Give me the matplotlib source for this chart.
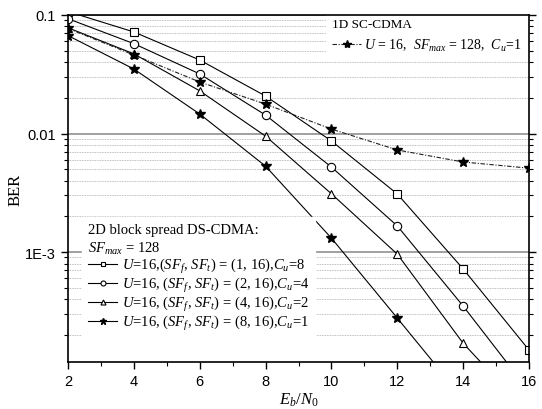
import matplotlib
matplotlib.use("Agg")
import matplotlib.pyplot as plt
from matplotlib.ticker import FixedLocator, FixedFormatter, LogLocator, NullFormatter

plt.rcParams['font.family'] = 'Liberation Serif'
plt.rcParams['mathtext.fontset'] = 'custom'
plt.rcParams['mathtext.rm'] = 'Liberation Serif'
plt.rcParams['mathtext.it'] = 'Liberation Serif:italic'

# Eb/N0 values
snr = [2, 4, 6, 8, 10, 12, 14, 16]

# 2D block spread DS-CDMA curves (last points fall below the axis)
ber_cu8 = [0.107, 0.0719, 0.0417, 0.0207, 0.00865, 0.00309, 7.2e-4, 1.49e-4]
ber_cu4 = [0.093, 0.0573, 0.0318, 0.0143, 0.00521, 0.00166, 3.5e-4, 6.7e-5]
ber_cu2 = [0.078, 0.047, 0.0229, 0.0095, 0.0031, 9.6e-4, 1.7e-4, 4.3e-5]
snr_cu1 = [2, 4, 6, 8, 10, 12, 14]
ber_cu1 = [0.067, 0.035, 0.0146, 0.0053, 0.00131, 2.77e-4, 5.8e-5]

# 1D SC-CDMA
ber_1d = [0.077, 0.046, 0.0272, 0.0177, 0.0109, 0.00726, 0.00575, 0.0051]

fig = plt.figure(figsize=(5.42, 4.10), dpi=100)
ax = fig.add_axes([0.1255, 0.1146, 0.8505, 0.8464])

lw = 0.8
ms = 5.5
l8, = ax.plot(snr, ber_cu8, '-', color='black', lw=lw, marker='s', ms=ms,
              mfc='white', mec='black', mew=0.8)
l4, = ax.plot(snr, ber_cu4, '-', color='black', lw=lw, marker='o', ms=ms + 0.5,
              mfc='white', mec='black', mew=0.8)
l2, = ax.plot(snr, ber_cu2, '-', color='black', lw=lw, marker='^', ms=ms + 0.5,
              mfc='white', mec='black', mew=0.8)
l1, = ax.plot(snr_cu1, ber_cu1, '-', color='black', lw=lw, marker='*', ms=ms + 2,
              mfc='black', mec='black')
l1d, = ax.plot(snr, ber_1d, color='#202020', lw=lw, ls=(0, (4, 1.5, 1, 1.5)),
               marker='*', ms=ms + 2, mfc='black', mec='black')

ax.set_yscale('log')
ax.set_xlim(2, 16)
ax.set_ylim(1.18e-4, 0.1)

ax.xaxis.set_major_locator(FixedLocator([2, 4, 6, 8, 10, 12, 14, 16]))
ax.xaxis.set_minor_locator(FixedLocator([3, 5, 7, 9, 11, 13, 15]))
ax.yaxis.set_major_locator(FixedLocator([1e-3, 1e-2, 1e-1]))
ax.yaxis.set_major_formatter(FixedFormatter(['1E-3', '0.01', '0.1']))
ax.yaxis.set_minor_locator(LogLocator(base=10, subs=range(2, 10)))
ax.yaxis.set_minor_formatter(NullFormatter())

for lab in ax.get_xticklabels() + ax.get_yticklabels():
    lab.set_fontfamily('Liberation Sans')
    lab.set_fontsize(10.5)

ax.tick_params(which='major', direction='out', length=5, width=1)
ax.tick_params(which='minor', direction='out', length=3, width=0.8)
ax.tick_params(axis='y', which='both', right=True)
ax.tick_params(axis='x', which='both', top=False)

ax.grid(True, axis='y', which='major', color='#909090', lw=1.2, ls='-')
ax.grid(True, axis='y', which='minor', color='#a8a8a8', lw=0.6, ls=(0, (1, 1)))
ax.set_axisbelow(True)
for s in ax.spines.values():
    s.set_linewidth(1.2)

ax.set_ylabel('BER', fontsize=12, labelpad=1)
ax.set_xlabel('$E_b/N_0$', fontsize=12, labelpad=2)

leg1 = ax.legend([l1d], ['$U$ = 16,  $SF_{max}$ = 128,  $C_u$=1'],
                 title='1D SC-CDMA', loc='upper right', bbox_to_anchor=(1.0, 1.012),
                 fontsize=10, title_fontsize=9.5, frameon=True, fancybox=False,
                 edgecolor='white', framealpha=1, handlelength=2.1,
                 borderaxespad=0.1, handletextpad=0.2, markerscale=0.8,
                 borderpad=0.45, labelspacing=0.45)
leg1._legend_box.align = 'left'
leg1.set_zorder(2.4)
ax.add_artist(leg1)

labels = ['$U$=16,($SF_f$, $SF_t$) = (1, 16),$C_u$=8',
          '$U$=16, ($SF_f$, $SF_t$) = (2, 16),$C_u$=4',
          '$U$=16, ($SF_f$, $SF_t$) = (4, 16),$C_u$=2',
          '$U$=16, ($SF_f$, $SF_t$) = (8, 16),$C_u$=1']
leg2 = ax.legend([l8, l4, l2, l1], labels,
                 title='2D block spread DS-CDMA:\n$SF_{max}$ = 128',
                 loc='lower left', bbox_to_anchor=(0.025, 0.062),
                 fontsize=10.5, title_fontsize=10.5, frameon=True, fancybox=False,
                 edgecolor='white', framealpha=1, handlelength=2.0,
                 borderaxespad=0.2, handletextpad=0.3, labelspacing=0.0,
                 markerscale=0.6)
leg2._legend_box.align = 'left'
leg2.get_title().set_linespacing(1.3)
leg2.set_zorder(2.4)

fig.savefig('out.png', dpi=100)
